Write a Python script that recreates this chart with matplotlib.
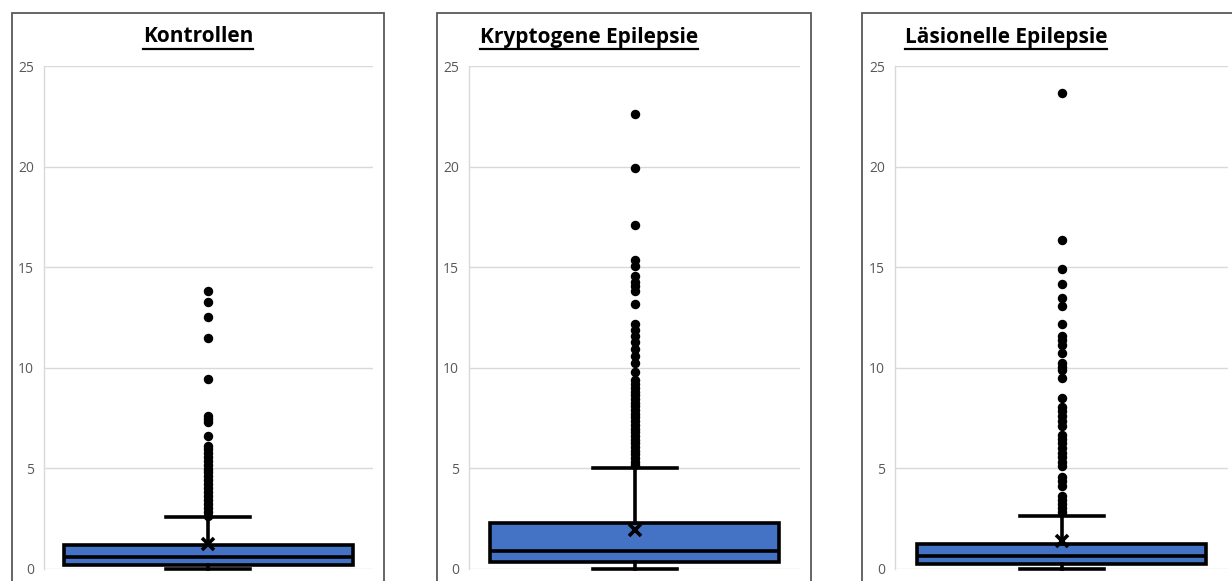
import matplotlib
matplotlib.use("Agg")
import matplotlib.pyplot as plt
from matplotlib.patches import Rectangle
from matplotlib.lines import Line2D

# ---- data ----
titles = ["Kontrollen", "Kryptogene Epilepsie", "Läsionelle Epilepsie"]

q1_vals = [0.18, 0.35, 0.23]
median_vals = [0.61, 0.90, 0.66]
q3_vals = [1.18, 2.30, 1.24]
whislo_vals = [0.0, 0.0, 0.0]
whishi_vals = [2.57, 5.02, 2.64]
mean_vals = [1.24, 1.94, 1.39]

fliers_kontrollen = [13.83, 13.27, 12.52, 11.50, 9.46, 7.60, 7.47, 7.31, 6.61, 6.11,
                     5.96, 5.78, 5.58, 5.38, 5.18, 4.98, 4.82, 4.62, 4.42, 4.22,
                     4.03, 3.83, 3.63, 3.43, 3.23, 3.03, 2.83, 2.63]
fliers_kryptogen = [22.62, 19.95, 17.10, 15.34, 15.04, 14.54, 14.28, 14.08, 13.82, 13.18,
                    12.19, 11.89, 11.59, 11.26, 10.93, 10.60, 10.23, 9.80, 9.37, 9.19,
                    9.00, 8.82, 8.63, 8.45, 8.27, 8.08, 7.90, 7.72, 7.53, 7.35,
                    7.17, 6.98, 6.80, 6.62, 6.43, 6.25, 6.07, 5.88, 5.70, 5.52,
                    5.33, 5.17]
fliers_laesionell = [23.67, 16.37, 14.91, 14.16, 13.47, 13.05, 12.17, 11.59, 11.36, 11.14,
                     10.76, 10.26, 10.06, 9.87, 9.47, 8.49, 8.04, 7.83, 7.58, 7.35,
                     7.11, 6.67, 6.45, 6.25, 6.00, 5.79, 5.59, 5.34, 5.14, 4.59,
                     4.38, 4.13, 3.63, 3.43, 3.23, 3.05, 2.85]
fliers_all = [fliers_kontrollen, fliers_kryptogen, fliers_laesionell]

y_ticks = [0, 5, 10, 15, 20, 25]
y_max = 25

# ---- layout ----
W, H = 1232, 581
fig = plt.figure(figsize=(W / 100, H / 100), dpi=100)
fig.patch.set_facecolor("white")

def fx(px):
    return px / W

def fy(py):
    return 1 - py / H

axes_px = [(44, 373), (469, 800), (895, 1228)]
frames_px = [(12, 384), (437, 811), (862, 1240)]
title_cx = [198, 589, 1006]
y_top_px, y_bot_px = 66, 569

blue = "#4472C4"
grid_c = "#D9D9D9"
tick_c = "#595959"
lw = 2.6

# frames
for (l, r) in frames_px:
    fig.patches.append(Rectangle((fx(l), fy(600)), fx(r - l), (600 - 13) / H,
                                 transform=fig.transFigure, fill=False,
                                 edgecolor="#595959", linewidth=1.3, zorder=0))

title_texts = []
for i in range(3):
    l, r = axes_px[i]
    ax = fig.add_axes([fx(l), fy(y_bot_px), fx(r - l), (y_bot_px - y_top_px) / H])

    stats = [{
        "med": median_vals[i], "q1": q1_vals[i], "q3": q3_vals[i],
        "whislo": whislo_vals[i], "whishi": whishi_vals[i],
        "mean": mean_vals[i], "fliers": fliers_all[i],
    }]
    box_w = 289 / (r - l)
    cap_w = 84 / (r - l)
    ax.bxp(stats, positions=[1], widths=box_w, capwidths=cap_w,
           patch_artist=True, showmeans=True, showfliers=True, manage_ticks=False,
           boxprops=dict(facecolor=blue, edgecolor="black", linewidth=lw),
           medianprops=dict(color="black", linewidth=lw),
           whiskerprops=dict(color="black", linewidth=lw),
           capprops=dict(color="black", linewidth=lw),
           meanprops=dict(marker="x", markeredgecolor="black", markersize=8,
                          markeredgewidth=2.6),
           flierprops=dict(marker="o", markerfacecolor="black",
                           markeredgecolor="black", markersize=5.8))
    for art in ax.get_children():
        try:
            art.set_clip_on(False)
        except Exception:
            pass

    ax.set_xlim(0.5, 1.5)
    ax.set_ylim(0, y_max)
    ax.set_yticks(y_ticks)
    ax.set_yticklabels([str(t) for t in y_ticks], color=tick_c, fontsize=10,
                       family=["Open Sans", "DejaVu Sans"])
    ax.tick_params(axis="y", length=0, pad=7)
    ax.set_xticks([])
    for s in ["top", "right", "bottom"]:
        ax.spines[s].set_visible(False)
    ax.spines["left"].set_color(grid_c)
    ax.spines["left"].set_linewidth(1.0)
    ax.grid(axis="y", color=grid_c, linewidth=1.0)
    ax.set_axisbelow(True)

    t = fig.text(fx(title_cx[i]), fy(37), titles[i], ha="center", va="center",
                 fontsize=15, fontweight="bold", color="black",
                 family=["Open Sans", "DejaVu Sans"])
    title_texts.append(t)

# underline titles
fig.canvas.draw()
renderer = fig.canvas.get_renderer()
for t in title_texts:
    bb = t.get_window_extent(renderer=renderer)
    x0, x1 = bb.x0 / W, bb.x1 / W
    yline = fy(49)
    fig.lines.append(Line2D([x0, x1], [yline, yline], transform=fig.transFigure,
                            color="black", linewidth=1.6))

fig.savefig("out.png", dpi=100, facecolor="white")
